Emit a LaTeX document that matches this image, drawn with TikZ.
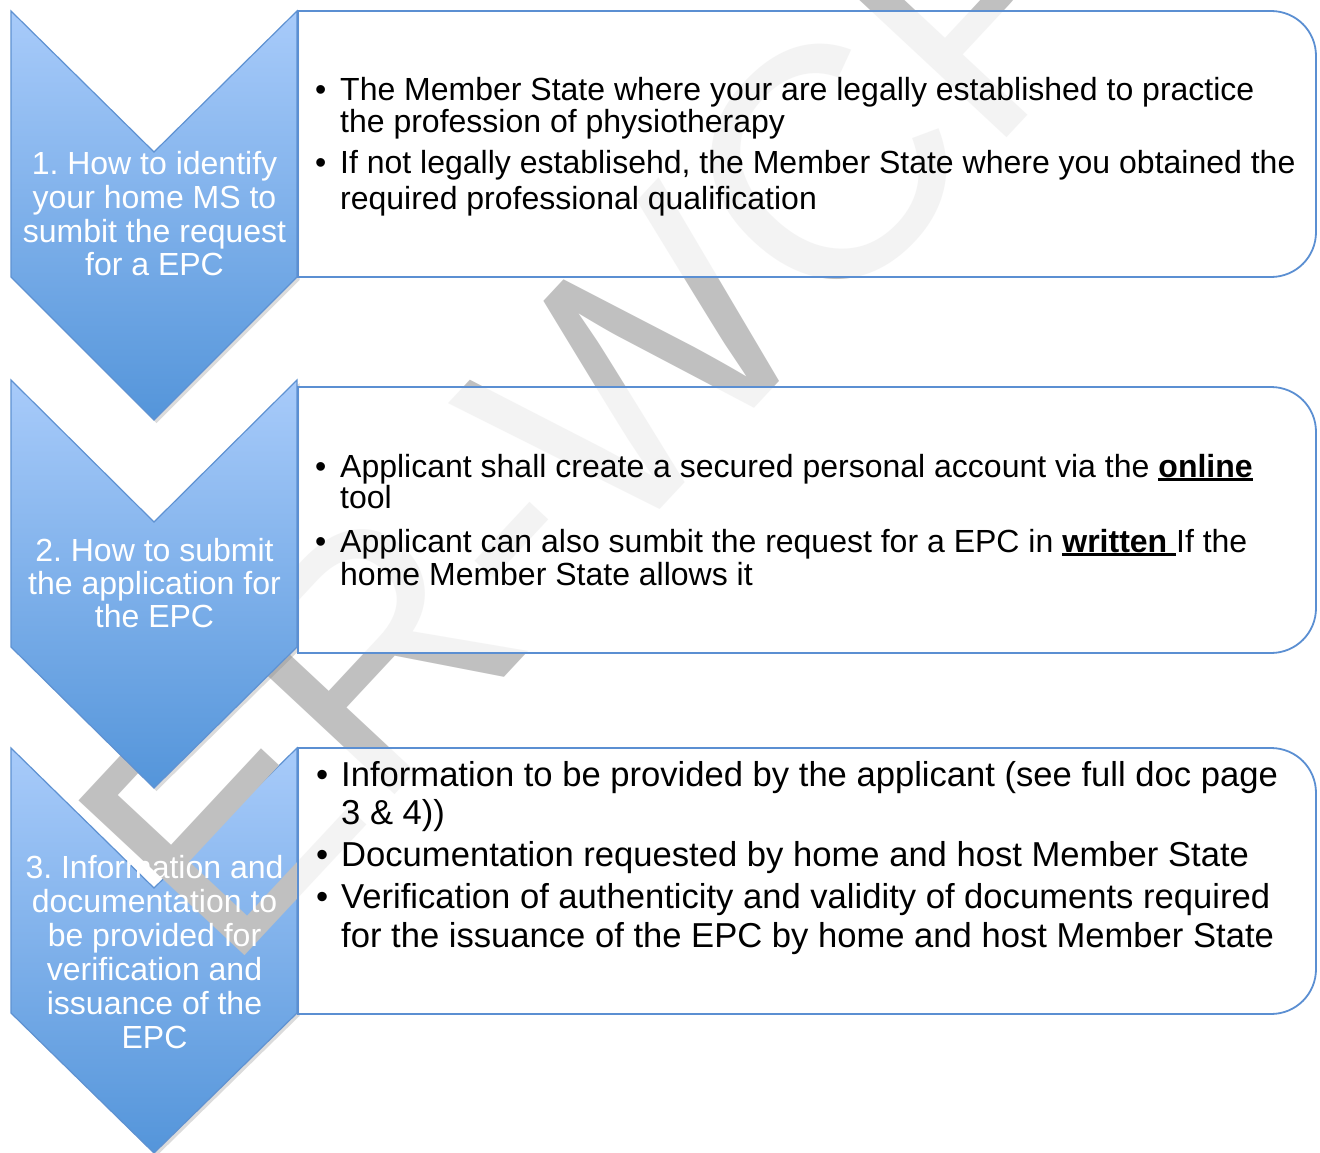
\documentclass[tikz,border=0pt]{standalone}
\usepackage{fontspec}
\setmainfont{Liberation Sans}
\usetikzlibrary{shadows}
\definecolor{boxblue}{HTML}{5B8FD2}
\definecolor{chevtop}{HTML}{A8CBFA}
\definecolor{chevbot}{HTML}{5495DA}
\definecolor{chevline}{HTML}{5F92D2}
\definecolor{wmgray}{HTML}{C0C0C0}
\newsavebox\ulbox
\newcommand{\ulbold}[1]{\sbox\ulbox{\bfseries #1}\rlap{\rule[-3.6pt]{\wd\ulbox}{2.2pt}}\usebox\ulbox}
\frenchspacing
\begin{document}
\begin{tikzpicture}[x=1pt,y=-1pt,
  chev/.style={draw=chevline, line width=1.2pt, top color=chevtop, bottom color=chevbot,
     drop shadow={shadow xshift=2.5pt, shadow yshift=-3pt, opacity=0.28}},
  boxst/.style={draw=boxblue, line width=1.8pt, fill=white, fill opacity=0.82},
  ctxt/.style={inner sep=0pt, text=white, font=\fontsize{32}{38}\selectfont, anchor=base, text height=22pt, text depth=6pt},
  btxt/.style={inner sep=0pt, text=black, font=\fontsize{32}{38}\selectfont, anchor=base west, text height=22pt, text depth=6pt},
  btxtl/.style={inner sep=0pt, text=black, font=\fontsize{34.6}{40}\selectfont, anchor=base west, text height=24pt, text depth=7pt},
  wm/.style={inner sep=0pt, text=wmgray, font=\fontsize{330}{330}\selectfont, rotate=47, anchor=center}]
\useasboundingbox (0,0) rectangle (1320,1153);
\fill[white] (0,0) rectangle (1320,1153);

% chevron 3 (under the watermark)
\path[chev] (11,748) -- (154,888) -- (297,748) -- (297,1013) -- (154,1153) -- (11,1013) -- cycle;

% watermark
\begin{scope}
  \clip (0,0) rectangle (1320,1153);
  \node[wm] (wmark) at (668,335) {ER-WCPT};
\end{scope}

% chevrons 2 and 1
\path[chev] (11,380) -- (154,522) -- (297,380) -- (297,647) -- (154,788) -- (11,647) -- cycle;
\path[chev] (11,11) -- (154,152) -- (297,11) -- (297,277) -- (154,420) -- (11,277) -- cycle;

% boxes
\path[boxst] (298,11) -- (1271,11) .. controls (1296,11) and (1316,31) .. (1316,56)
  -- (1316,232) .. controls (1316,257) and (1296,277) .. (1271,277) -- (298,277) -- cycle;
\path[boxst] (298,387) -- (1271,387) .. controls (1296,387) and (1316,407) .. (1316,432)
  -- (1316,608) .. controls (1316,633) and (1296,653) .. (1271,653) -- (298,653) -- cycle;
\path[boxst] (298,748) -- (1271,748) .. controls (1296,748) and (1316,768) .. (1316,793)
  -- (1316,969) .. controls (1316,994) and (1296,1014) .. (1271,1014) -- (298,1014) -- cycle;

% chevron texts
\node[ctxt] (c1a) at (154.5,175) {1. How to identify};
\node[ctxt] (c1b) at (154.5,208.5) {your home MS to};
\node[ctxt] (c1c) at (154.5,242) {sumbit the request};
\node[ctxt] (c1d) at (154.5,275.5) {for a EPC};

\node[ctxt] (c2a) at (154.5,561) {2. How to submit};
\node[ctxt] (c2b) at (154.5,594) {the application for};
\node[ctxt] (c2c) at (154.5,627) {the EPC};

\node[ctxt] (c3a) at (154.5,878) {3. Information and};
\node[ctxt] (c3b) at (154.5,912) {documentation to};
\node[ctxt] (c3c) at (154.5,946) {be provided for};
\node[ctxt] (c3d) at (154.5,980) {verification and};
\node[ctxt] (c3e) at (154.5,1014) {issuance of the};
\node[ctxt] (c3f) at (154.5,1048) {EPC};

% box 1 texts
\node[btxt] (b1d1) at (315,101) {•};
\node[btxt] (b1a) at (340,101) {The Member State where your are legally established to practice};
\node[btxt] (b1b) at (340,133) {the profession of physiotherapy};
\node[btxt] (b1d2) at (315,174) {•};
\node[btxt] (b1c) at (340,174) {If not legally establisehd, the Member State where you obtained the};
\node[btxt] (b1e) at (340,209) {required professional qualification};

% box 2 texts
\node[btxt] (b2d1) at (315,477) {•};
\node[btxt] (b2a) at (340,477) {Applicant shall create a secured personal account via the \ulbold{online}};
\node[btxt] (b2b) at (340,508) {tool};
\node[btxt] (b2d2) at (315,552) {•};
\node[btxt] (b2c) at (340,552) {Applicant can also sumbit the request for a EPC in \ulbold{written }If the};
\node[btxt] (b2e) at (340,585) {home Member State allows it};

% box 3 texts
\node[btxtl] (b3d1) at (316,786) {•};
\node[btxtl] (b3a) at (341,786) {Information to be provided by the applicant (see full doc page};
\node[btxtl] (b3b) at (341,824) {3 \& 4))};
\node[btxtl] (b3d2) at (316,866) {•};
\node[btxtl] (b3c) at (341,866) {Documentation requested by home and host Member State};
\node[btxtl] (b3d3) at (316,908) {•};
\node[btxtl] (b3e) at (341,908) {Verification of authenticity and validity of documents required};
\node[btxtl] (b3f) at (341,947) {for the issuance of the EPC by home and host Member State};
\end{tikzpicture}
\end{document}
